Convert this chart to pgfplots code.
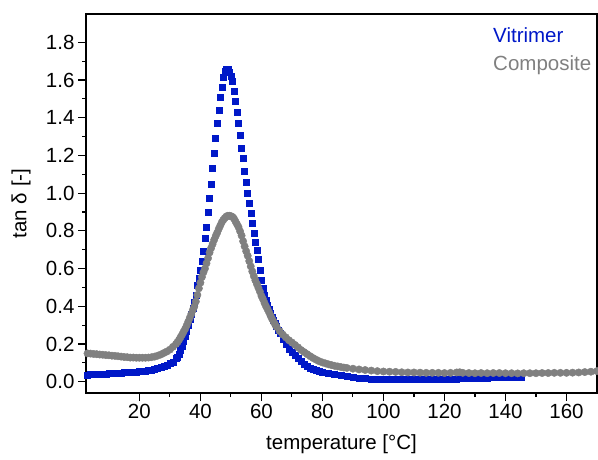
\documentclass[border=0pt]{standalone}
\usepackage{pgfplots}
\pgfplotsset{compat=1.18}
\usepackage{fontspec}
\setmainfont{Liberation Sans}
\definecolor{vitblue}{HTML}{0018C8}
\definecolor{compgray}{HTML}{808080}

\begin{document}
\begin{tikzpicture}
  \begin{axis}[
    scale only axis,
    width=511pt, height=379pt,
    xmin=2.5, xmax=170,
    ymin=-0.06, ymax=1.95,
    xtick={20,40,...,160},
    ytick={0,0.2,...,1.8},
    minor tick num=1,
    tick align=outside,
    xtick pos=bottom, ytick pos=left,
    major tick length=8pt, minor tick length=4pt,
    every tick/.style={black, line width=1.1pt},
    axis line style={line width=1.2pt},
    tick label style={font=\fontsize{20.5}{24}\selectfont},
    /pgf/number format/assume math mode=true,
    yticklabel style={/pgf/number format/.cd, fixed, fixed zerofill, precision=1},
    xlabel={temperature [°C]},
    ylabel={tan δ [-]},
    label style={font=\fontsize{20.5}{24}\selectfont},
    xlabel style={at={(axis description cs:0.5,-0.135)}, anchor=center},
    ylabel style={at={(axis description cs:-0.127,0.5)}, anchor=center},
    legend style={at={(axis description cs:0.7926,0.970)}, anchor=north west,
      draw=none, fill=none, inner sep=0pt, row sep=8pt,
      font=\fontsize{20.5}{24}\selectfont},
    legend cell align=left,
    legend image code/.code={},
  ]
  % Vitrimer: blue squares
  \addplot[only marks, mark=square*, mark size=3pt, color=vitblue]
    coordinates {
    (3,0.037)(4,0.038)(5,0.039)(6,0.040)(7,0.041)(8,0.041)(9,0.042)(10,0.043)
    (11,0.044)(12,0.045)(13,0.046)(14,0.047)(15,0.048)(16,0.049)(17,0.050)
    (18,0.051)(19,0.053)(20,0.054)(21,0.056)(22,0.058)(23,0.061)(24,0.063)
    (25,0.066)(26,0.070)(27,0.075)(28,0.081)(29,0.088)(30,0.096)(31,0.106)
    (32,0.122)(32.5,0.132)(33,0.148)(33.5,0.165)(34,0.190)(34.5,0.215)
    (35,0.240)(35.5,0.270)(36,0.300)(36.5,0.330)(37,0.360)(37.5,0.390)
    (38,0.420)(38.5,0.460)(39,0.510)(39.5,0.550)(40,0.590)(40.5,0.640)
    (41,0.690)(41.5,0.760)(42,0.820)(42.5,0.900)(43,0.975)(43.5,1.050)
    (44,1.130)(44.5,1.210)(45,1.290)(45.5,1.370)(46,1.440)(46.5,1.510)
    (47,1.562)(47.5,1.614)(48,1.645)(48.5,1.655)(49,1.655)(49.5,1.640)
    (50,1.619)(50.5,1.594)(51,1.541)(51.5,1.488)(52,1.430)(52.5,1.372)
    (53,1.308)(53.5,1.240)(54,1.187)(54.5,1.118)(55,1.060)(55.5,1.002)
    (56,0.946)(56.5,0.892)(57,0.843)(57.5,0.790)(58,0.742)(58.5,0.698)
    (59,0.649)(59.5,0.593)(60,0.540)(60.5,0.496)(61,0.460)(61.5,0.430)
    (62,0.405)(62.5,0.382)(63,0.362)(63.5,0.342)(64,0.325)(64.5,0.308)
    (65,0.292)(65.5,0.275)(66,0.258)(67,0.225)(68,0.198)(69,0.173)
    (70,0.155)(71,0.140)(72,0.122)(73,0.108)(74,0.094)(75,0.082)(76,0.072)
    (77,0.066)(78,0.060)(79,0.056)(80,0.053)(82,0.046)(84,0.040)(86,0.034)
    (88,0.028)(90,0.023)(92,0.019)(94,0.016)(96,0.015)(98,0.014)(100,0.013)
    (102,0.012)(104,0.011)(106,0.011)(108,0.011)(110,0.011)(112,0.011)
    (114,0.011)(116,0.011)(118,0.012)(120,0.013)(122,0.014)(124,0.015)
    (126,0.016)(128,0.017)(130,0.018)(132,0.020)(134,0.021)(136,0.022)
    (138,0.023)(140,0.024)(142,0.025)(144,0.026)(145,0.026)
    };
  \addlegendentry[text=vitblue]{Vitrimer}

  % Composite: grey circles
  \addplot[only marks, mark=*, mark size=3.7pt, color=compgray]
    coordinates {
    (3,0.150)(4,0.149)(5,0.147)(6,0.146)(7,0.144)(8,0.143)(9,0.141)(10,0.140)
    (11,0.138)(12,0.137)(13,0.135)(14,0.133)(15,0.131)(16,0.130)(17,0.128)
    (18,0.128)(19,0.127)(20,0.127)(21,0.127)(22,0.127)(23,0.128)(24,0.130)
    (25,0.133)(26,0.138)(27,0.144)(28,0.152)(29,0.160)(30,0.170)(31,0.185)
    (32,0.200)(32.5,0.210)(33,0.222)(33.5,0.236)(34,0.250)(34.5,0.265)
    (35,0.280)(35.5,0.298)(36,0.318)(36.5,0.338)(37,0.358)(37.5,0.380)
    (38,0.398)(38.5,0.425)(39,0.460)(39.5,0.495)(40,0.525)(40.5,0.555)
    (41,0.580)(41.5,0.600)(42,0.628)(42.5,0.655)(43,0.685)(43.5,0.708)
    (44,0.730)(44.5,0.752)(45,0.772)(45.5,0.790)(46,0.810)(46.5,0.828)
    (47,0.845)(47.5,0.858)(48,0.868)(48.5,0.876)(49,0.880)(49.5,0.880)
    (50,0.878)(50.5,0.874)(51,0.865)(51.5,0.850)(52,0.835)(52.5,0.820)
    (53,0.798)(53.5,0.775)(54,0.745)(54.5,0.718)(55,0.692)(55.5,0.668)
    (56,0.640)(56.5,0.612)(57,0.585)(57.5,0.560)(58,0.538)(58.5,0.518)
    (59,0.498)(59.5,0.478)(60,0.455)(60.5,0.438)(61,0.418)(61.5,0.400)
    (62,0.385)(62.5,0.368)(63,0.350)(63.5,0.333)(64,0.318)(64.5,0.303)
    (65,0.290)(66,0.268)(67,0.250)(68,0.235)(69,0.220)(70,0.208)(71,0.195)
    (72,0.182)(73,0.168)(74,0.157)(75,0.146)(76,0.135)(77,0.125)(78,0.116)
    (79,0.108)(80,0.102)(81,0.097)(82,0.092)(83,0.088)(84,0.084)(85,0.081)
    (86,0.078)(87,0.075)(88,0.073)(90,0.069)(92,0.065)(94,0.062)(96,0.059)
    (98,0.056)(100,0.054)(102,0.053)(104,0.052)(106,0.050)(108,0.049)
    (110,0.049)(112,0.048)(114,0.047)(116,0.047)(118,0.047)(120,0.046)
    (122,0.047)(124,0.049)(125,0.050)(126,0.047)(128,0.046)(130,0.045)
    (132,0.046)(134,0.045)(136,0.046)(138,0.046)(140,0.045)(142,0.045)
    (144,0.044)(146,0.045)(148,0.045)(150,0.045)(152,0.046)(154,0.046)
    (156,0.047)(158,0.047)(160,0.047)(162,0.048)(164,0.049)(166,0.051)
    (168,0.053)(170,0.056)
    };
  \addlegendentry[text=compgray]{Composite}
  \end{axis}
  \pgfresetboundingbox
  \path ([xshift=-86pt,yshift=-66pt]current axis.south west)
    rectangle ([xshift=1pt,yshift=14pt]current axis.north east);
\end{tikzpicture}
\end{document}
